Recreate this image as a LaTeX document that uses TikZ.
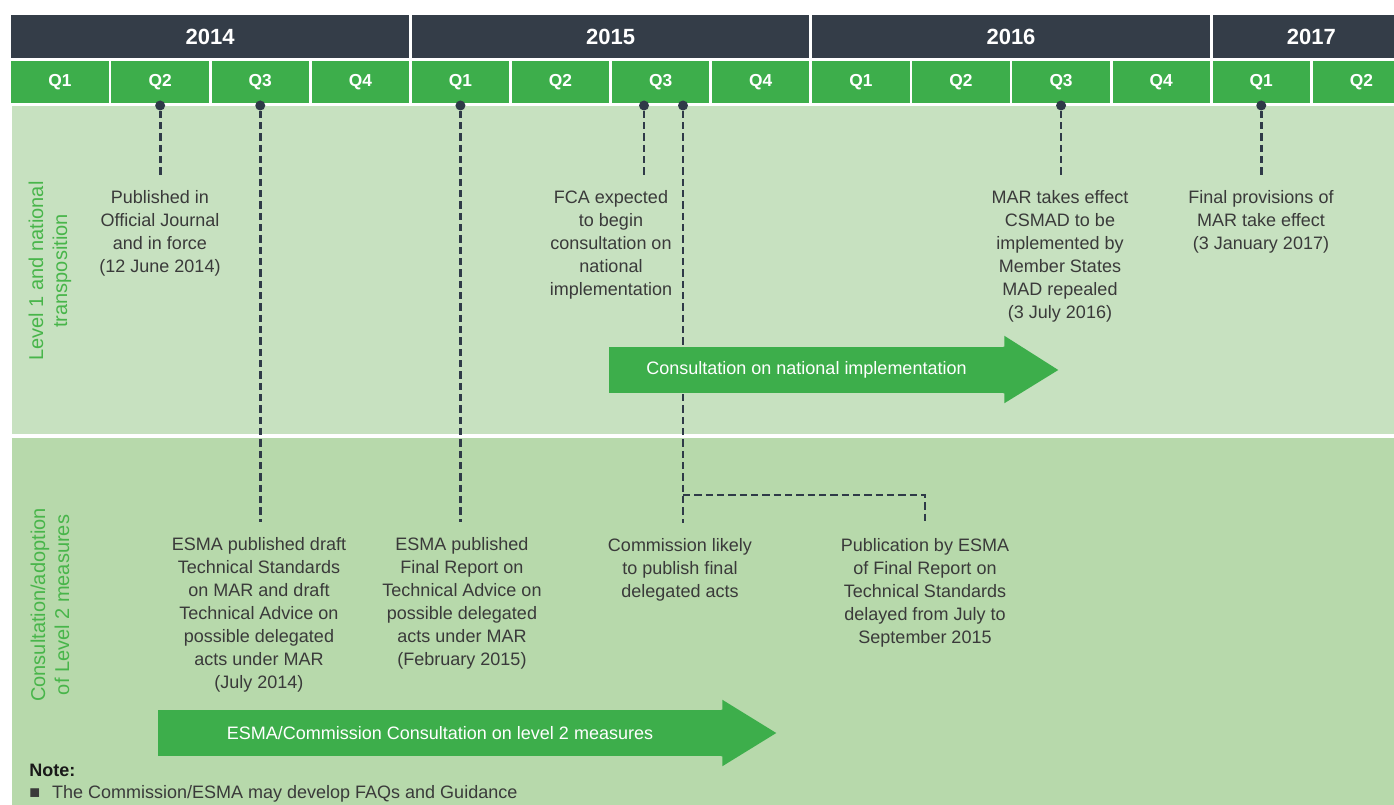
\documentclass[tikz,border=0pt]{standalone}
\usepackage{fontspec}
\setmainfont{Liberation Sans}
\usetikzlibrary{calc,positioning}
\definecolor{HeadDark}{HTML}{343D48}
\definecolor{QuarterGreen}{HTML}{3DAE4B}
\definecolor{PanelA}{HTML}{C7E1C0}
\definecolor{PanelB}{HTML}{B7D9AB}
\definecolor{Ink}{HTML}{3A3A3A}
\definecolor{PinDark}{HTML}{2F3A48}
\definecolor{SideGreen}{HTML}{48B54A}

\begin{document}
\begin{tikzpicture}[x=0.75pt,y=-0.75pt,
yearcell/.style={
	rectangle,
	fill=HeadDark,
	text=white,
	minimum height=32.25pt,
	inner sep=0pt,
	font=\fontsize{16.5}{18}\selectfont\bfseries},
qcell/.style={
	rectangle,
	fill=QuarterGreen,
	text=white,
	minimum width=73pt,
	minimum height=31.5pt,
	inner sep=0pt,
	font=\fontsize{13}{15}\selectfont\bfseries},
pin/.style={
	circle,
	fill=PinDark,
	minimum size=7.5pt,
	inner sep=0pt},
leader/.style={
	draw=PinDark,
	line width=2.1pt,
	dash pattern=on 5.5pt off 3pt,
	shorten >=11.25pt},
event/.style={
	align=center,
	anchor=north,
	inner sep=0pt,
	text=Ink,
	font=\fontsize{13.5}{17.25}\selectfont},
band/.style={
	rectangle,
	fill=QuarterGreen,
	text=white,
	minimum height=34.5pt,
	inner sep=0pt,
	font=\fontsize{13.5}{16}\selectfont},
side/.style={
	align=center,
	rotate=90,
	inner sep=0pt,
	text=SideGreen,
	font=\fontsize{15}{18}\selectfont}]

\useasboundingbox (0,0) rectangle (1394,805);
\clip (0,0) rectangle (1394,805);

%Panels
\fill[PanelA] (12,106) rectangle (1394,434);
\fill[PanelB] (12,438) rectangle (1394,805);

%Years and quarters
\foreach \yr/\n/\c in {2014/4/2, 2015/4/6, 2016/4/10, 2017/2/13} {
	\node[yearcell, minimum width={\n*75.075pt-2pt}] (y\yr) at ({10+100.1*\c},36.5) {\yr};
}

\foreach \q [count=\i from 0] in {Q1,Q2,Q3,Q4,Q1,Q2,Q3,Q4,Q1,Q2,Q3,Q4,Q1,Q2} {
	\node[qcell] (q\i) at ({10+100.1*(\i+0.5)},82.5) {\q};
}

%Milestones
\node[pin] (pPub)    at (q1.south |- 0,105.5) {};
\node[pin] (pDraft)  at (q2.south |- 0,105.5) {};
\node[pin] (pReport) at (q4.south |- 0,105.5) {};
\node[pin] (pFca)    at (644,105.5) {};
\node[pin] (pCom)    at (683,105.5) {};
\node[pin] (pMar)    at (q10.south |- 0,105.5) {};
\node[pin] (pFin)    at (q12.south |- 0,105.5) {};

\node[event] (tPub) at (160,190) {Published in\\ Official Journal\\ and in force\\ (12 June 2014)};
\node[event] (tFca) at (611,190) {FCA expected\\ to begin\\ consultation on\\ national\\ implementation};
\node[event] (tMar) at (1060,190) {MAR takes effect\\ CSMAD to be\\ implemented by\\ Member States\\ MAD repealed\\ (3 July 2016)};
\node[event] (tFin) at (1261,190) {Final provisions of\\ MAR take effect\\ (3 January 2017)};

\node[event] (tDraft)  at (259,537) {ESMA published draft\\ Technical Standards\\ on MAR and draft\\ Technical Advice on\\ possible delegated\\ acts under MAR\\ (July 2014)};
\node[event] (tReport) at (462,537) {ESMA published\\ Final Report on\\ Technical Advice on\\ possible delegated\\ acts under MAR\\ (February 2015)};
\node[event] (tCom)    at (680,538) {Commission likely\\ to publish final\\ delegated acts};
\node[event] (tDelay)  at (925,538) {Publication by ESMA\\ of Final Report on\\ Technical Standards\\ delayed from July to\\ September 2015};

\foreach \p/\t in {Pub/Pub, Fca/Fca, Mar/Mar, Fin/Fin, Draft/Draft, Report/Report, Com/Com} {
	\draw[leader] (p\p) -- (p\p |- t\t.north);
}
\coordinate (fork) at (pCom |- 0,495);
\draw[leader] (fork) -| (tDelay.north);

%Consultation bands
\node[band, minimum width=296.25pt] (natBand) at (806.5,370) {Consultation on national implementation};
\fill[QuarterGreen] ($(natBand.north east)+(-1,0)$) -- ++(1,0) -- ++(0,-11) -- ($(natBand.east)+(54,0)$) -- ($(natBand.south east)+(0,10)$) -- (natBand.south east) -- ++(-1,0) -- cycle;

\node[band, minimum width=423pt] (escBand) at (440,733) {ESMA/Commission Consultation on level 2 measures};
\fill[QuarterGreen] ($(escBand.north east)+(-1,0)$) -- ++(1,0) -- ++(0,-10) -- ($(escBand.east)+(54,0)$) -- ($(escBand.south east)+(0,10)$) -- (escBand.south east) -- ++(-1,0) -- cycle;

%Row labels
\node[side] (sideL1) at (50,271) {Level 1 and national\\ transposition};
\node[side] (sideL2) at (50,605) {Consultation/adoption\\ of Level 2 measures};

%Note
\node[anchor=base west, inner sep=0pt, text=black!90, font=\fontsize{13.5}{16}\selectfont\bfseries] (note) at (29,776) {Note:};
\node[anchor=base west, inner sep=0pt, text=Ink, font=\fontsize{13.5}{16}\selectfont] (noteItem) at (29,798) {■\hspace{9pt}The Commission/ESMA may develop FAQs and Guidance};

\end{tikzpicture}
\end{document}
